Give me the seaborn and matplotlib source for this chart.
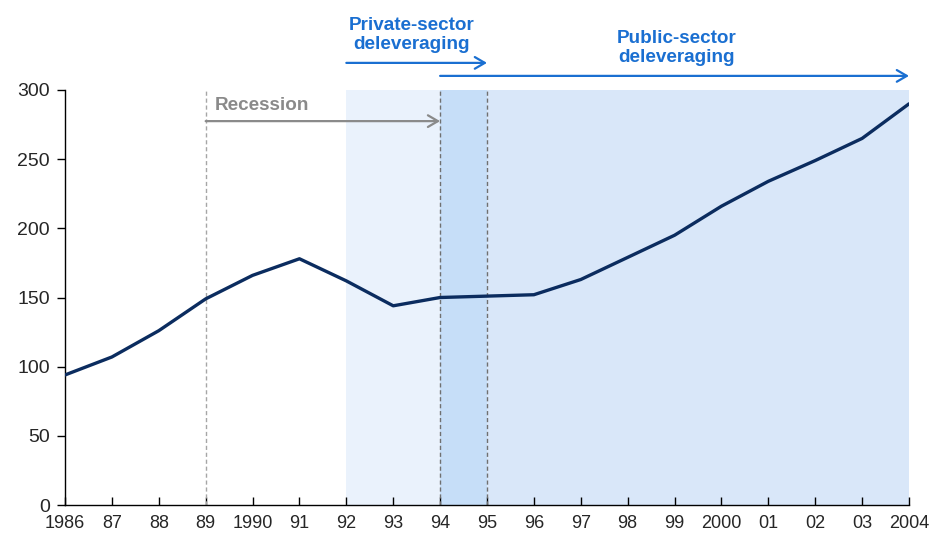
import matplotlib
matplotlib.use("Agg")
import matplotlib.pyplot as plt
import seaborn as sns
import pandas as pd

years = list(range(1986, 2005))
values = [94, 107, 126, 149, 166, 178, 162, 144, 150, 151, 152, 163, 179, 195, 216, 234, 249, 265, 290]
tick_labels = ["1986", "87", "88", "89", "1990", "91", "92", "93", "94", "95", "96",
               "97", "98", "99", "2000", "01", "02", "03", "2004"]
yticks = [0, 50, 100, 150, 200, 250, 300]

sns.set_theme(style="white")
plt.rcParams['font.family'] = ['Liberation Sans', 'DejaVu Sans']

df = pd.DataFrame({"year": years, "value": values})

fig = plt.figure(figsize=(9.31, 5.38), dpi=100)
ax = fig.add_axes([65/931, 1-505/538, (909-65)/931, (505-90)/538])

# shaded regions
ax.axvspan(1992, 1994, color="#EAF2FC", lw=0, zorder=0)
ax.axvspan(1994, 1995, color="#C6DEF8", lw=0, zorder=0)
ax.axvspan(1995, 2004, color="#D9E7F9", lw=0, zorder=0)

ax.axvline(1989, color="#A6A6A6", lw=1, ls=(0, (3, 2)), zorder=1)
ax.axvline(1994, color="#707070", lw=1, ls=(0, (3, 2)), zorder=1)
ax.axvline(1995, color="#707070", lw=1, ls=(0, (3, 2)), zorder=1)

sns.lineplot(data=df, x="year", y="value", color="#0B2C5F", lw=2.4, ax=ax, zorder=3)

ax.set_xlim(1986, 2004)
ax.set_ylim(0, 300)
ax.set_xticks(years)
ax.set_xticklabels(tick_labels, fontsize=13)
ax.set_yticks(yticks)
ax.set_yticklabels([str(v) for v in yticks], fontsize=14)
ax.set_xlabel("")
ax.set_ylabel("")
for s in ["top", "right"]:
    ax.spines[s].set_visible(False)
for s in ["left", "bottom"]:
    ax.spines[s].set_color("black")
    ax.spines[s].set_linewidth(1)
ax.tick_params(axis="x", direction="in", length=6, width=1, color="black", pad=7, bottom=True)
ax.tick_params(axis="y", direction="out", length=6, width=1, color="black", pad=5, left=True)

gray = "#8A8A8A"
blue = "#1A6FD1"

# Recession arrow
ax.annotate("", xy=(1994, 277.5), xytext=(1989, 277.5),
            arrowprops=dict(arrowstyle="->,head_length=0.6,head_width=0.35", color=gray, lw=1.6,
                            shrinkA=0, shrinkB=0), zorder=4)
ax.text(1989.2, 283, "Recession", color=gray, fontsize=13.6, fontweight="bold", ha="left", va="bottom")

# Private-sector arrow
ax.annotate("", xy=(1995, 319.6), xytext=(1992, 319.6), annotation_clip=False,
            arrowprops=dict(arrowstyle="->,head_length=0.6,head_width=0.35", color=blue, lw=1.6,
                            shrinkA=0, shrinkB=0))
ax.text(1993.4, 327, "Private-sector\ndeleveraging", color=blue, fontsize=13.6, fontweight="bold",
        ha="center", va="bottom", linespacing=1.1)

# Public-sector arrow
ax.annotate("", xy=(2004, 310.2), xytext=(1994, 310.2), annotation_clip=False,
            arrowprops=dict(arrowstyle="->,head_length=0.6,head_width=0.35", color=blue, lw=1.6,
                            shrinkA=0, shrinkB=0))
ax.text(1999.05, 317.5, "Public-sector\ndeleveraging", color=blue, fontsize=13.6, fontweight="bold",
        ha="center", va="bottom", linespacing=1.1)

fig.savefig("out.png", dpi=100)
